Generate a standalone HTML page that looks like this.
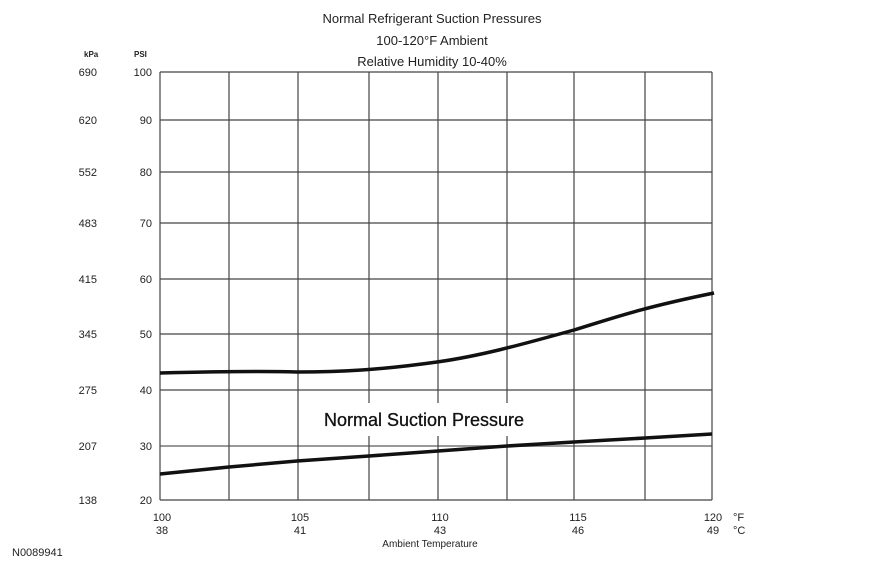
<!DOCTYPE html>
<html><head><meta charset="utf-8"><style>
body{margin:0;background:#fff;}
svg{display:block;font-family:"Liberation Sans",sans-serif;}
</style></head><body>
<svg width="870" height="568" viewBox="0 0 870 568">
<g fill="#222" text-anchor="middle" font-size="13">
<text x="432" y="23">Normal  Refrigerant  Suction  Pressures</text>
<text x="432" y="45">100-120°F Ambient</text>
<text x="432" y="66">Relative Humidity 10-40%</text>
</g>
<g stroke="#444" stroke-width="1.2" fill="none">
<line x1="160" y1="72" x2="712" y2="72"/>
<line x1="160" y1="120" x2="712" y2="120"/>
<line x1="160" y1="172" x2="712" y2="172"/>
<line x1="160" y1="223" x2="712" y2="223"/>
<line x1="160" y1="279" x2="712" y2="279"/>
<line x1="160" y1="334" x2="712" y2="334"/>
<line x1="160" y1="390" x2="712" y2="390"/>
<line x1="160" y1="446" x2="712" y2="446" stroke="#999" stroke-width="2"/>
<line x1="160" y1="500" x2="712" y2="500"/>
<line x1="160" y1="72" x2="160" y2="500"/>
<line x1="229" y1="72" x2="229" y2="500"/>
<line x1="298" y1="72" x2="298" y2="500"/>
<line x1="369" y1="72" x2="369" y2="500"/>
<line x1="438" y1="72" x2="438" y2="500"/>
<line x1="507" y1="72" x2="507" y2="500"/>
<line x1="574" y1="72" x2="574" y2="500"/>
<line x1="645" y1="72" x2="645" y2="500"/>
<line x1="712" y1="72" x2="712" y2="500"/>
</g>
<rect x="312" y="403" width="222" height="33" fill="#fff"/>
<text x="424" y="426" text-anchor="middle" font-size="18" fill="#111" stroke="#111" stroke-width="0.3">Normal Suction Pressure</text>
<g stroke="#111" stroke-width="3.5" fill="none">
<path d="M160,373 C200,372 260,371 297,372 C340,372 380,370 437,362 C480,356 520,345 574,330 C610,319 640,308 714,293"/>
<path d="M160,474 L229,467 L297,461 L369,456 L438,451 L507,446 L574,442 L645,438 L712,434"/>
</g>
<g fill="#222" font-size="11">
<text x="84" y="57" font-size="8" font-weight="bold">kPa</text>
<text x="134" y="57" font-size="8" font-weight="bold">PSI</text>
<g text-anchor="start">
<text x="97" y="76" text-anchor="end">690</text><text x="152" y="76" text-anchor="end">100</text>
<text x="97" y="124" text-anchor="end">620</text><text x="152" y="124" text-anchor="end">90</text>
<text x="97" y="176" text-anchor="end">552</text><text x="152" y="176" text-anchor="end">80</text>
<text x="97" y="227" text-anchor="end">483</text><text x="152" y="227" text-anchor="end">70</text>
<text x="97" y="283" text-anchor="end">415</text><text x="152" y="283" text-anchor="end">60</text>
<text x="97" y="338" text-anchor="end">345</text><text x="152" y="338" text-anchor="end">50</text>
<text x="97" y="394" text-anchor="end">275</text><text x="152" y="394" text-anchor="end">40</text>
<text x="97" y="450" text-anchor="end">207</text><text x="152" y="450" text-anchor="end">30</text>
<text x="97" y="504" text-anchor="end">138</text><text x="152" y="504" text-anchor="end">20</text>
</g>
<g text-anchor="middle">
<text x="162" y="521">100</text><text x="162" y="534">38</text>
<text x="300" y="521">105</text><text x="300" y="534">41</text>
<text x="440" y="521">110</text><text x="440" y="534">43</text>
<text x="578" y="521">115</text><text x="578" y="534">46</text>
<text x="713" y="521">120</text><text x="713" y="534">49</text>
<text x="430" y="547" font-size="10">Ambient Temperature</text>
</g>
<text x="733" y="521">°F</text><text x="733" y="534">°C</text>
<text x="12" y="556">N0089941</text>
</g>
</svg>
</body></html>
